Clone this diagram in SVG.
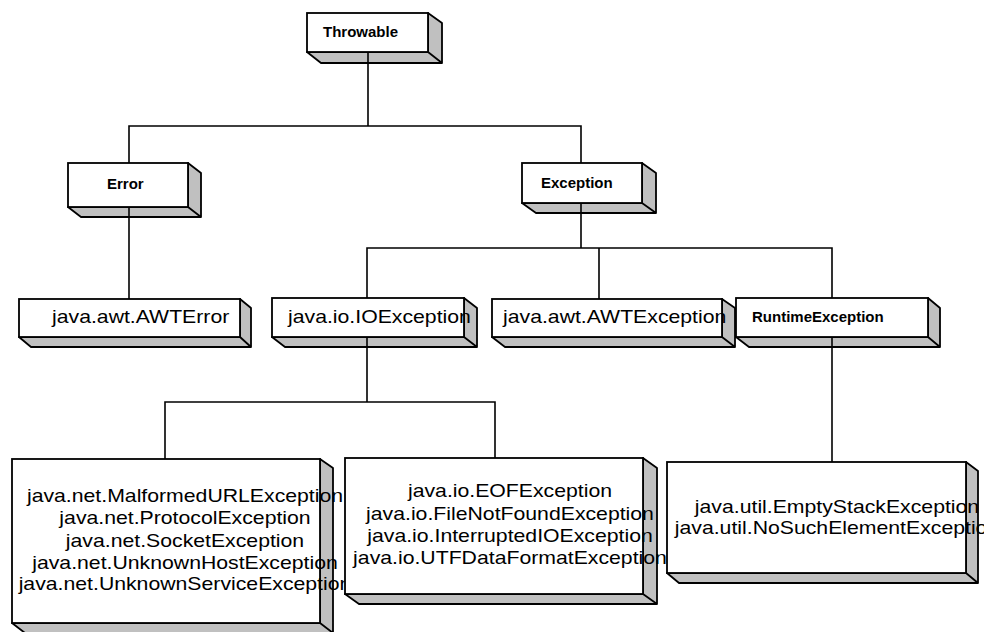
<svg xmlns="http://www.w3.org/2000/svg" width="984" height="632" viewBox="0 0 984 632">
<style>
.f{fill:#fff;stroke:#000;stroke-width:1.8}
.s{fill:#c0c0c0;stroke:#000;stroke-width:1.8;stroke-linejoin:round}
.b{font-family:"Liberation Sans",Arial,sans-serif;font-weight:bold;font-size:15px;fill:#000}
.r{font-family:"Liberation Sans",Arial,sans-serif;font-size:18px;fill:#000}
.c{fill:none;stroke:#000;stroke-width:1.6}
</style>
<rect width="984" height="632" fill="#fff"/>
<g id="throwable">
<path class="s" d="M428,13 L442,23 L442,63 L321,63 L307,52 L428,52 Z M428,52 L442,63"/>
<rect class="f" x="307" y="13" width="121" height="39"/>
<text class="b" x="323" y="37">Throwable</text>
</g>
<g id="error">
<path class="s" d="M188,163 L201,173 L201,217 L81,217 L68,207 L188,207 Z M188,207 L201,217"/>
<rect class="f" x="68" y="163" width="120" height="44"/>
<text class="b" x="107" y="189">Error</text>
</g>
<g id="exception">
<path class="s" d="M642,163 L656,173 L656,213 L536,213 L522,203 L642,203 Z M642,203 L656,213"/>
<rect class="f" x="522" y="163" width="120" height="40"/>
<text class="b" x="541" y="188">Exception</text>
</g>
<g id="awterror">
<path class="s" d="M240,299 L251,308 L251,347 L31,347 L19,337 L240,337 Z M240,337 L251,347"/>
<rect class="f" x="19" y="299" width="221" height="38"/>
<text class="r" transform="translate(52,323) scale(1.18,1)">java.awt.AWTError</text>
</g>
<g id="ioexception">
<path class="s" d="M464,298 L477,308 L477,347 L285,347 L272,337 L464,337 Z M464,337 L477,347"/>
<rect class="f" x="272" y="298" width="192" height="39"/>
<text class="r" transform="translate(288,323) scale(1.18,1)">java.io.IOException</text>
</g>
<g id="awtexception">
<path class="s" d="M722,299 L735,308 L735,347 L505,347 L492,337 L722,337 Z M722,337 L735,347"/>
<rect class="f" x="492" y="299" width="230" height="38"/>
<text class="r" transform="translate(503,323) scale(1.18,1)">java.awt.AWTException</text>
</g>
<g id="runtimeexception">
<path class="s" d="M928,298 L940,308 L940,347 L749,347 L736,337 L928,337 Z M928,337 L940,347"/>
<rect class="f" x="736" y="298" width="192" height="39"/>
<text class="b" x="752" y="322">RuntimeException</text>
</g>
<g id="netexceptions">
<path class="s" d="M320,459 L333,468 L333,633 L25,633 L12,623 L320,623 Z M320,623 L333,633"/>
<rect class="f" x="12" y="459" width="308" height="164"/>
<text class="r" text-anchor="middle" transform="translate(185,0) scale(1.18,1)"><tspan x="0" y="502">java.net.MalformedURLException</tspan><tspan x="0" y="524">java.net.ProtocolException</tspan><tspan x="0" y="547">java.net.SocketException</tspan><tspan x="0" y="569">java.net.UnknownHostException</tspan><tspan x="0" y="590">java.net.UnknownServiceException</tspan></text>
</g>
<g id="ioexceptions">
<path class="s" d="M643,458 L657,468 L657,604 L359,604 L345,594 L643,594 Z M643,594 L657,604"/>
<rect class="f" x="345" y="458" width="298" height="136"/>
<text class="r" text-anchor="middle" transform="translate(510,0) scale(1.18,1)"><tspan x="0" y="497">java.io.EOFException</tspan><tspan x="0" y="520">java.io.FileNotFoundException</tspan><tspan x="0" y="542">java.io.InterruptedIOException</tspan><tspan x="0" y="564">java.io.UTFDataFormatException</tspan></text>
</g>
<g id="utilexceptions">
<path class="s" d="M966,462 L978,471 L978,583 L679,583 L667,573 L966,573 Z M966,573 L978,583"/>
<rect class="f" x="667" y="462" width="299" height="111"/>
<text class="r" text-anchor="middle" transform="translate(837,0) scale(1.18,1)"><tspan x="0" y="513">java.util.EmptyStackException</tspan><tspan x="0" y="534">java.util.NoSuchElementException</tspan></text>
</g>
<g id="connectors">
<path class="c" d="M368,52 V126 M129,163 V126 H581 V163"/>
<path class="c" d="M129,207 V299"/>
<path class="c" d="M581,203 V248 M367,298 V248 H832 V298 M599,248 V299"/>
<path class="c" d="M367,337 V402 M165,459 V402 H495 V458"/>
<path class="c" d="M832,337 V462"/>
</g>
</svg>
